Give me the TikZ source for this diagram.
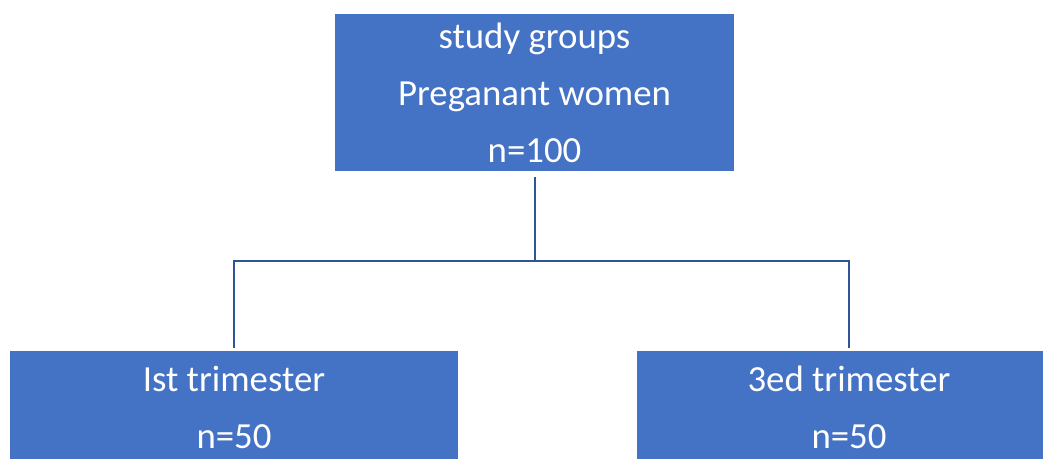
\documentclass[tikz,border=0pt]{standalone}
\usepackage{fontspec}
\setmainfont{Carlito}
\definecolor{boxblue}{HTML}{4472C4}
\definecolor{lineblue}{HTML}{2F5597}
\begin{document}
\begin{tikzpicture}[x=1pt,y=1pt,
    box/.style={fill=boxblue,text=white,inner sep=0pt,align=center,
        font=\fontsize{36.8}{57}\selectfont},
    link/.style={lineblue,line width=2pt}]
    \useasboundingbox (0,0) rectangle (1043,-458);
    \clip (0,0) rectangle (1043,-458);
    % boxes
    \node[box,minimum width=399pt,minimum height=157pt] (groups) at (534.5,-92.5)
        {study groups\\Preganant women\\n=100};
    \node[box,minimum width=448pt,minimum height=113pt] (first) at (234,-407.5)
        {Ist trimester\\n=50};
    \node[box,minimum width=424pt,minimum height=113pt] (third) at (849,-407.5)
        {3ed trimester\\n=50};
    % connectors
    \draw[link,shorten <=6pt] (groups.south) -- ++(0,-90) coordinate (fork);
    \draw[link,shorten >=3pt] (fork) -| (first.north);
    \draw[link,shorten >=3pt] (fork) -| (third.north);
\end{tikzpicture}
\end{document}
